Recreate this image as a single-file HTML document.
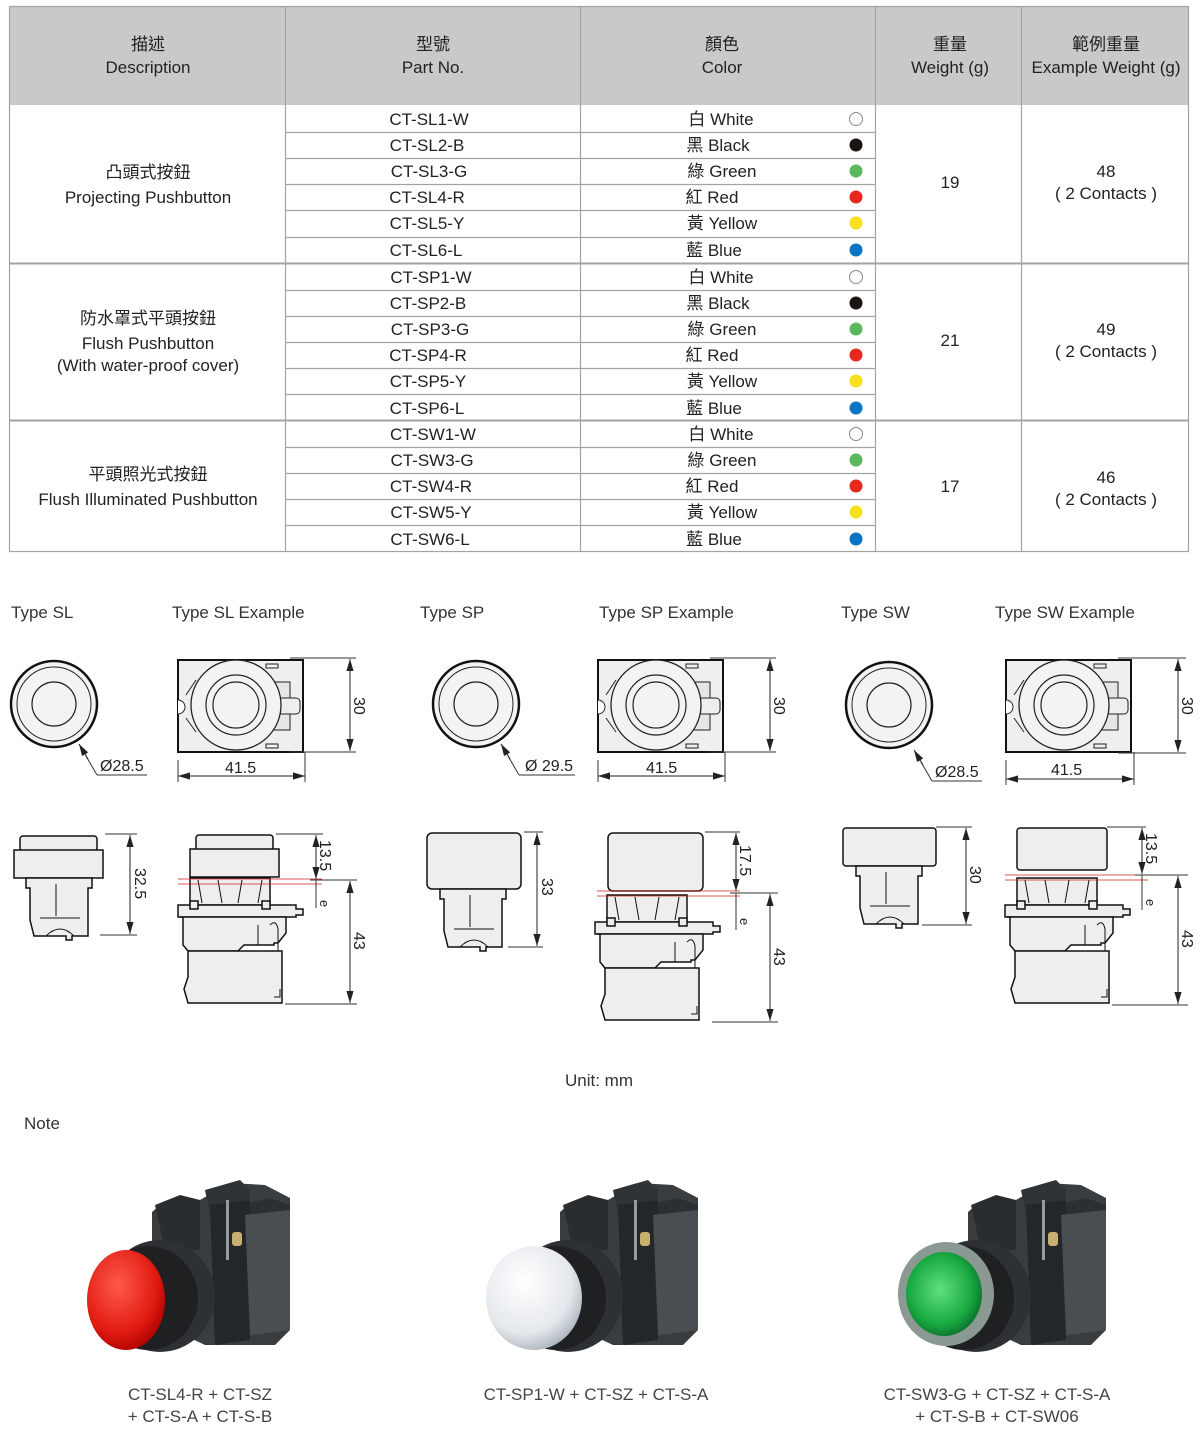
<!DOCTYPE html>
<html><head><meta charset="utf-8"><style>
html,body{margin:0;padding:0;background:#fff;}
svg{display:block;font-family:"Liberation Sans","Noto Sans CJK TC",sans-serif;}
</style></head><body>
<svg width="1200" height="1437" viewBox="0 0 1200 1437" xmlns="http://www.w3.org/2000/svg">
<defs>
<marker id="ar" viewBox="0 0 10 10" refX="10" refY="5" markerWidth="12" markerHeight="12" markerUnits="userSpaceOnUse" orient="auto-start-reverse"><path d="M0,2 L10,5 L0,8 z" fill="#222"/></marker>
<g id="top">
<circle r="43" fill="#f3f3f3" stroke="#111" stroke-width="2.5"/>
<circle r="37" fill="none" stroke="#222" stroke-width="1"/>
<circle r="22" fill="none" stroke="#222" stroke-width="1.2"/>
</g>
<g id="extop">
<rect x="0" y="0" width="125" height="92" fill="#efefef" stroke="#111" stroke-width="2"/>
<path d="M0,40 a7,7 0 0 1 0,14" fill="#fff" stroke="#222"/>
<path d="M18,20 L8,35 M18,72 L8,58" stroke="#222"/>
<rect x="92" y="22" width="20" height="48" fill="#e6e6e6" stroke="#222"/>
<rect x="100" y="38" width="22" height="16" rx="4" fill="#eee" stroke="#222"/>
<rect x="88" y="4" width="12" height="4" fill="none" stroke="#222"/>
<rect x="88" y="84" width="12" height="4" fill="none" stroke="#222"/>
<circle cx="58" cy="45" r="45" fill="#f3f3f3" stroke="#222" stroke-width="1.3"/>
<circle cx="58" cy="45" r="30" fill="none" stroke="#222" stroke-width="1.2"/>
<circle cx="58" cy="45" r="23" fill="none" stroke="#222" stroke-width="1.2"/>
</g>
<g id="lower" fill="#eeeeee" stroke="#111" stroke-width="1.5">
<rect x="12" y="-27" width="80" height="27"/>
<path d="M20,-25 L24,-2 M40,-25 L44,-2 M64,-25 L60,-2 M84,-25 L80,-2" stroke-width="1" fill="none"/>
<path d="M0,0 H118 V4 H125 V10 H118 V12 H0 Z"/>
<rect x="12" y="-4" width="8" height="8"/><rect x="84" y="-4" width="8" height="8"/>
<path d="M2,12 H108 V28 L100,38 H96 V40 L66,40 L60,46 H10 L5,40 V12 Z"/>
<path d="M10,46 H104 V98 H10 L6,84 L10,72 Z"/>
<path d="M92,20 q6,-6 8,4 V46 M96,92 h6 v-8" fill="none" stroke-width="1"/>
<path d="M80,20 V40" stroke-width="1"/>
</g>
<g id="simpbody" fill="#eeeeee" stroke="#111" stroke-width="1.5">
<path d="M0,0 H66 V10 H62 V58 H46 V62 H40 V58 H8 L4,42 V10 H0 Z"/>
<path d="M30,6 V38 M14,40 H54" stroke-width="1" fill="none"/>
<path d="M20,58 q14,-14 28,0" fill="none" stroke-width="1"/>
</g>
</defs>

<!-- TABLE -->
<rect x="9" y="6" width="1180" height="99" fill="#c9c9c9"/>
<g stroke="#a3a3a3" stroke-width="1.2" fill="none">
<rect x="9.5" y="6.5" width="1179" height="545"/>
<line x1="285.5" y1="6" x2="285.5" y2="552"/>
<line x1="580.5" y1="6" x2="580.5" y2="552"/>
<line x1="875.5" y1="6" x2="875.5" y2="552"/>
<line x1="1021.5" y1="6" x2="1021.5" y2="552"/>
<line x1="9" y1="263.5" x2="1189" y2="263.5" stroke-width="2"/>
<line x1="9" y1="420.5" x2="1189" y2="420.5" stroke-width="2"/>
<path d="M285,132.5H875M285,158.5H875M285,184.5H875M285,210.5H875M285,237.5H875M285,290.5H875M285,316.5H875M285,342.5H875M285,368.5H875M285,394.5H875M285,447.5H875M285,473.5H875M285,499.5H875M285,525.5H875"/>
</g>
<g font-size="17" fill="#222" text-anchor="middle">
<text x="148" y="50">描述</text><text x="148" y="73">Description</text>
<text x="433" y="50">型號</text><text x="433" y="73">Part No.</text>
<text x="722" y="50">顏色</text><text x="722" y="73">Color</text>
<text x="950" y="50">重量</text><text x="950" y="73">Weight (g)</text>
<text x="1106" y="50">範例重量</text><text x="1106" y="73">Example Weight (g)</text>

<text x="148" y="178">凸頭式按鈕</text><text x="148" y="203">Projecting Pushbutton</text>
<text x="148" y="324">防水罩式平頭按鈕</text><text x="148" y="349">Flush Pushbutton</text><text x="148" y="371">(With water-proof cover)</text>
<text x="148" y="480">平頭照光式按鈕</text><text x="148" y="505">Flush Illuminated Pushbutton</text>

<text x="950" y="188">19</text><text x="1106" y="177">48</text><text x="1106" y="199">( 2 Contacts )</text>
<text x="950" y="346">21</text><text x="1106" y="335">49</text><text x="1106" y="357">( 2 Contacts )</text>
<text x="950" y="492">17</text><text x="1106" y="483">46</text><text x="1106" y="505">( 2 Contacts )</text>

<text x="429" y="125">CT-SL1-W</text><text x="427" y="151">CT-SL2-B</text><text x="429" y="177">CT-SL3-G</text><text x="427" y="203">CT-SL4-R</text><text x="427" y="229">CT-SL5-Y</text><text x="426" y="256">CT-SL6-L</text>
<text x="431" y="283">CT-SP1-W</text><text x="428" y="309">CT-SP2-B</text><text x="430" y="335">CT-SP3-G</text><text x="428" y="361">CT-SP4-R</text><text x="428" y="387">CT-SP5-Y</text><text x="427" y="414">CT-SP6-L</text>
<text x="433" y="440">CT-SW1-W</text><text x="432" y="466">CT-SW3-G</text><text x="431" y="492">CT-SW4-R</text><text x="431" y="518">CT-SW5-Y</text><text x="430" y="545">CT-SW6-L</text>

<text x="721" y="125">白 White</text><text x="718" y="151">黑 Black</text><text x="722" y="177">綠 Green</text><text x="712" y="203">紅 Red</text><text x="722" y="229">黃 Yellow</text><text x="714" y="256">藍 Blue</text>
<text x="721" y="283">白 White</text><text x="718" y="309">黑 Black</text><text x="722" y="335">綠 Green</text><text x="712" y="361">紅 Red</text><text x="722" y="387">黃 Yellow</text><text x="714" y="414">藍 Blue</text>
<text x="721" y="440">白 White</text><text x="722" y="466">綠 Green</text><text x="712" y="492">紅 Red</text><text x="722" y="518">黃 Yellow</text><text x="714" y="545">藍 Blue</text>
</g>
<g stroke-width="1">
<circle cx="856" cy="119" r="6.5" fill="#fff" stroke="#888"/><circle cx="856" cy="145" r="6.5" fill="#1a1311"/><circle cx="856" cy="171" r="6.5" fill="#5cb85c"/><circle cx="856" cy="197" r="6.5" fill="#e8281e"/><circle cx="856" cy="223" r="6.5" fill="#f8e01c"/><circle cx="856" cy="250" r="6.5" fill="#0a74c2"/>
<circle cx="856" cy="277" r="6.5" fill="#fff" stroke="#888"/><circle cx="856" cy="303" r="6.5" fill="#1a1311"/><circle cx="856" cy="329" r="6.5" fill="#5cb85c"/><circle cx="856" cy="355" r="6.5" fill="#e8281e"/><circle cx="856" cy="381" r="6.5" fill="#f8e01c"/><circle cx="856" cy="408" r="6.5" fill="#0a74c2"/>
<circle cx="856" cy="434" r="6.5" fill="#fff" stroke="#888"/><circle cx="856" cy="460" r="6.5" fill="#5cb85c"/><circle cx="856" cy="486" r="6.5" fill="#e8281e"/><circle cx="856" cy="512" r="6.5" fill="#f8e01c"/><circle cx="856" cy="539" r="6.5" fill="#0a74c2"/>
</g>

<g font-size="17" fill="#333">
<text x="11" y="618">Type SL</text><text x="172" y="618">Type SL Example</text>
<text x="420" y="618">Type SP</text><text x="599" y="618">Type SP Example</text>
<text x="841" y="618">Type SW</text><text x="995" y="618">Type SW Example</text>
</g>

<use href="#top" x="54" y="704"/>
<use href="#top" x="476" y="704"/>
<use href="#top" x="889" y="705"/>
<use href="#extop" x="178" y="660"/>
<use href="#extop" x="598" y="660"/>
<use href="#extop" x="1006" y="660"/>
<g stroke="#333" stroke-width="1" fill="none">
<path d="M97,775 H147 M97,775 L86,756"/>
<path d="M519,775 H575 M519,775 L508,756"/>
<path d="M932,781 H982 M932,781 L921,762"/>
<line x1="178" y1="760" x2="178" y2="782"/><line x1="305" y1="752" x2="305" y2="782"/>
<line x1="598" y1="760" x2="598" y2="782"/><line x1="725" y1="752" x2="725" y2="782"/>
<line x1="1006" y1="760" x2="1006" y2="785"/><line x1="1134" y1="752" x2="1134" y2="785"/>
<line x1="290" y1="658" x2="356" y2="658"/><line x1="290" y1="752" x2="356" y2="752"/>
<line x1="710" y1="658" x2="776" y2="658"/><line x1="710" y1="752" x2="776" y2="752"/>
<line x1="1118" y1="658" x2="1186" y2="658"/><line x1="1118" y1="753" x2="1186" y2="753"/>
</g>
<g stroke="#222" stroke-width="1" marker-start="url(#ar)" marker-end="url(#ar)">
<line x1="178" y1="776" x2="305" y2="776"/>
<line x1="598" y1="776" x2="725" y2="776"/>
<line x1="1006" y1="779" x2="1134" y2="779"/>
<line x1="350" y1="659" x2="350" y2="751"/>
<line x1="770" y1="659" x2="770" y2="751"/>
<line x1="1178" y1="659" x2="1178" y2="752"/>
</g>
<g stroke="#222" stroke-width="1" marker-end="url(#ar)">
<line x1="88" y1="759" x2="79" y2="744"/><line x1="510" y1="759" x2="501" y2="744"/><line x1="923" y1="765" x2="914" y2="750"/>
</g>
<g font-size="16" fill="#222">
<text x="100" y="771">Ø28.5</text><text x="525" y="771">Ø 29.5</text><text x="935" y="777">Ø28.5</text>
<text x="225" y="773">41.5</text><text x="646" y="773">41.5</text><text x="1051" y="775">41.5</text>
<text transform="translate(354,697) rotate(90)">30</text>
<text transform="translate(774,697) rotate(90)">30</text>
<text transform="translate(1182,697) rotate(90)">30</text>
</g>

<g fill="#eeeeee" stroke="#111" stroke-width="1.5">
<rect x="20" y="836" width="77" height="15" rx="3"/>
<rect x="14" y="850" width="89" height="28"/>
<use href="#simpbody" x="26" y="878"/>
<rect x="196" y="835" width="77" height="15" rx="3"/>
<rect x="190" y="849" width="89" height="28"/>
<use href="#lower" x="178" y="905"/>
<rect x="427" y="833" width="94" height="56" rx="5"/>
<use href="#simpbody" x="440" y="889"/>
<rect x="608" y="833" width="95" height="58" rx="5"/>
<use href="#lower" x="595" y="922"/>
<rect x="843" y="828" width="93" height="38" rx="3"/>
<use href="#simpbody" x="856" y="866"/>
<rect x="1017" y="828" width="90" height="42" rx="3"/>
<use href="#lower" x="1005" y="905"/>
</g>
<g stroke="#c22" stroke-width="0.8">
<line x1="178" y1="879" x2="322" y2="879"/><line x1="178" y1="884" x2="322" y2="884"/>
<line x1="597" y1="891" x2="740" y2="891"/><line x1="597" y1="896" x2="740" y2="896"/>
<line x1="1005" y1="875" x2="1148" y2="875"/><line x1="1005" y1="880" x2="1148" y2="880"/>
</g>
<g stroke="#333" stroke-width="1" fill="none">
<path d="M105,834H137M100,935H137M524,832H543M508,947H543M936,827H972M922,925H972"/>
<path d="M276,834H323M310,880H357M285,1004H357"/>
<path d="M705,832H740M730,893H778M712,1022H778"/>
<path d="M1107,827H1146M1135,875H1188M1112,1005H1188"/>
<line x1="316" y1="880" x2="316" y2="908"/><line x1="736" y1="893" x2="736" y2="930"/><line x1="1142" y1="875" x2="1142" y2="910"/>
</g>
<g stroke="#222" stroke-width="1" marker-start="url(#ar)" marker-end="url(#ar)">
<line x1="130" y1="835" x2="130" y2="934"/>
<line x1="537" y1="833" x2="537" y2="946"/>
<line x1="966" y1="828" x2="966" y2="924"/>
<line x1="316" y1="835" x2="316" y2="879"/>
<line x1="350" y1="881" x2="350" y2="1003"/>
<line x1="736" y1="833" x2="736" y2="891"/>
<line x1="770" y1="894" x2="770" y2="1021"/>
<line x1="1142" y1="828" x2="1142" y2="874"/>
<line x1="1178" y1="876" x2="1178" y2="1004"/>
</g>
<g font-size="16" fill="#222">
<text transform="translate(135,868) rotate(90)">32.5</text>
<text transform="translate(542,878) rotate(90)">33</text>
<text transform="translate(970,866) rotate(90)">30</text>
<text transform="translate(320,840) rotate(90)">13.5</text>
<text transform="translate(320,900) rotate(90)" font-size="13">e</text>
<text transform="translate(354,932) rotate(90)">43</text>
<text transform="translate(740,845) rotate(90)">17.5</text>
<text transform="translate(740,918) rotate(90)" font-size="13">e</text>
<text transform="translate(774,948) rotate(90)">43</text>
<text transform="translate(1146,833) rotate(90)">13.5</text>
<text transform="translate(1146,899) rotate(90)" font-size="13">e</text>
<text transform="translate(1182,930) rotate(90)">43</text>
</g>

<text x="599" y="1086" font-size="17" fill="#333" text-anchor="middle">Unit: mm</text>
<text x="24" y="1129" font-size="17" fill="#333">Note</text>

<defs>
<radialGradient id="gr" cx="0.4" cy="0.35" r="0.7"><stop offset="0" stop-color="#ff5a4a"/><stop offset="0.7" stop-color="#e01a10"/><stop offset="1" stop-color="#a00"/></radialGradient>
<radialGradient id="gw" cx="0.4" cy="0.35" r="0.7"><stop offset="0" stop-color="#ffffff"/><stop offset="0.7" stop-color="#e4e8ec"/><stop offset="1" stop-color="#a8b0b8"/></radialGradient>
<radialGradient id="gg" cx="0.45" cy="0.45" r="0.6"><stop offset="0" stop-color="#60e080"/><stop offset="0.7" stop-color="#18a840"/><stop offset="1" stop-color="#0a6a2a"/></radialGradient>
<g id="body">
<path d="M152,1212 L160,1205 L200,1200 L230,1183 L265,1185 L290,1198 L290,1330 L275,1345 L225,1345 L205,1345 L152,1320 Z" fill="#3a3d40"/>
<path d="M155,1205 L180,1195 L200,1200 L200,1250 L165,1250 Z" fill="#2a2d30"/>
<path d="M205,1190 L240,1180 L250,1190 L250,1240 L215,1240 Z" fill="#303336"/>
<path d="M240,1205 L270,1198 L290,1205 L290,1230 L245,1232 Z" fill="#2c2f32"/>
<path d="M210,1205 L250,1200 L250,1340 L215,1345 Z" fill="#24272a"/>
<path d="M245,1215 L290,1210 L290,1330 L250,1335 Z" fill="#4a4e52"/>
<rect x="226" y="1200" width="3" height="60" fill="#9a9a9a"/>
<rect x="232" y="1232" width="10" height="14" rx="3" fill="#c8b070"/>
<ellipse cx="160" cy="1296" rx="55" ry="56" fill="#2e3134"/>
<ellipse cx="148" cy="1298" rx="50" ry="52" fill="#1e2022"/>
</g>
</defs>
<use href="#body"/>
<ellipse cx="126" cy="1300" rx="39" ry="50" fill="url(#gr)"/>
<use href="#body" x="408"/>
<ellipse cx="534" cy="1298" rx="48" ry="52" fill="url(#gw)"/>
<use href="#body" x="816"/>
<ellipse cx="946" cy="1294" rx="48" ry="52" fill="#8a9a92"/>
<ellipse cx="944" cy="1294" rx="38" ry="42" fill="url(#gg)"/>

<g font-size="17" fill="#444" text-anchor="middle">
<text x="200" y="1400">CT-SL4-R + CT-SZ</text><text x="200" y="1422">+ CT-S-A + CT-S-B</text>
<text x="596" y="1400">CT-SP1-W + CT-SZ + CT-S-A</text>
<text x="997" y="1400">CT-SW3-G + CT-SZ + CT-S-A</text><text x="997" y="1422">+ CT-S-B + CT-SW06</text>
</g>
</svg>
</body></html>
